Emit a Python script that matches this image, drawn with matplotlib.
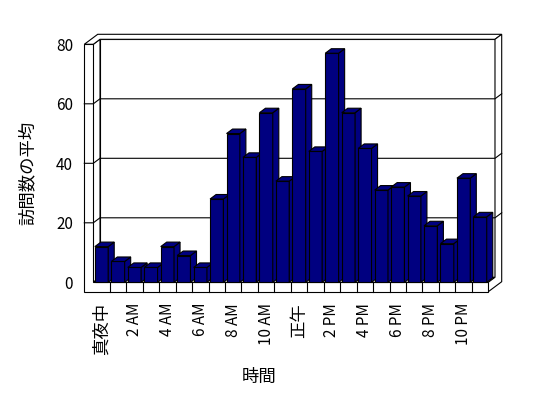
import matplotlib.pyplot as plt
from matplotlib.patches import Polygon

plt.rcParams['font.family'] = ['Noto Sans CJK JP', 'DejaVu Sans']

# Data: average visits per hour
hours = list(range(24))
visits = [12, 7, 5, 5, 12, 9, 5, 28, 50, 42, 57, 34,
          65, 44, 77, 57, 45, 31, 32, 29, 19, 13, 35, 22]
tick_labels = ["真夜中", "2 AM", "4 AM", "6 AM", "8 AM", "10 AM",
               "正午", "2 PM", "4 PM", "6 PM", "8 PM", "10 PM"]
yticks = [0, 20, 40, 60, 80]

# 3D-look geometry (data units)
DX, DY = 6.7 / 16.46, 5 / 2.975      # depth offset per depth unit
TX, TV = 9 / 16.46, 9.4 / 2.975      # wall / floor thickness
BAR_W, BAR_D = 0.81, 0.9
NAVY = '#000080'
LW = 0.8


def P(c, v, d):
    return (c + d * DX, v + d * DY)


fig = plt.figure(figsize=(5.48, 3.98), dpi=100)
ax = fig.add_axes([93.3 / 548, 1 - 282.3 / 398, 395 / 548, 238 / 398])
ax.set_xlim(0, 24)
ax.set_ylim(0, 80)
for s in ax.spines.values():
    s.set_visible(False)

n = len(hours)
top = yticks[-1]


def poly(pts, z, fc='white'):
    ax.add_patch(Polygon(pts, closed=True, facecolor=fc, edgecolor='black',
                         lw=LW, zorder=z, clip_on=False))


# walls and floor
poly([P(0, 0, 1), P(n, 0, 1), P(n, top, 1), P(0, top, 1)], 1)          # back wall
poly([P(0, 0, 0), P(0, top, 0), P(0, top, 1), P(0, 0, 1)], 1)          # left wall inner
poly([P(0, 0, 0), P(n, 0, 0), P(n, 0, 1), P(0, 0, 1)], 1)              # floor top
poly([P(-TX, top, 0), P(0, top, 0), P(0, top, 1), P(n, top, 1),
      P(n, top, 2), P(-TX, top, 2)], 1)                                 # wall tops
poly([P(n, -TV, 0), P(n, 0, 0), P(n, 0, 1), P(n, top, 1),
      P(n, top, 2), P(n, -TV, 2)], 1)                                   # right faces
poly([P(-TX, -TV, 0), P(n, -TV, 0), P(n, 0, 0), P(0, 0, 0),
      P(0, top, 0), P(-TX, top, 0)], 1)                                 # front L face

# floor cell dividers
for c in range(1, n):
    ax.plot([c, c], [-TV, 0], color='black', lw=LW, zorder=1.2, clip_on=False)

# gridlines wrapping around the walls
for v in yticks[1:-1]:
    pts = [P(-TX, v, 0), P(0, v, 0), P(0, v, 1), P(n, v, 1), P(n, v, 2)]
    ax.plot([p[0] for p in pts], [p[1] for p in pts], color='black',
            lw=LW, zorder=1.5, clip_on=False)

# bars
bars = ax.bar([h + 0.5 for h in hours], visits, width=BAR_W, color=NAVY,
              edgecolor='black', linewidth=LW, clip_on=False)
for i, (b, val) in enumerate(zip(bars, visits)):
    z = 3 + i * 0.01
    b.set_zorder(z)
    l, r = b.get_x(), b.get_x() + b.get_width()
    side = [P(r, 0, 0), P(r, val, 0), P(r, val, BAR_D), P(r, 0, BAR_D)]
    lid = [P(l, val, 0), P(r, val, 0), P(r, val, BAR_D), P(l, val, BAR_D)]
    poly(side, z + 0.001, NAVY)
    poly(lid, z + 0.001, NAVY)

# ticks and labels
ax.set_xticks([h + 0.5 for h in hours[::2]])
ax.set_xticklabels(tick_labels)
ax.tick_params(axis='x', length=0, pad=14.9, rotation=90, labelsize=11)
for t in ax.get_xticklabels():
    if t.get_text() in ("真夜中", "正午"):
        t.set_fontsize(12.5)
ax.set_yticks(yticks)
ax.tick_params(axis='y', length=0, pad=14.6, labelsize=11)

ax.set_xlabel("時間", fontsize=12.5, va='center')
ax.xaxis.set_label_coords((259 - 93.3) / 395, (282.3 - 377) / 238)
ax.set_ylabel("訪問数の平均", fontsize=12.5, va='center', ha='center')
ax.yaxis.set_label_coords((28 - 93.3) / 395, (282.3 - 173) / 238)

fig.savefig("out.png", dpi=100)
